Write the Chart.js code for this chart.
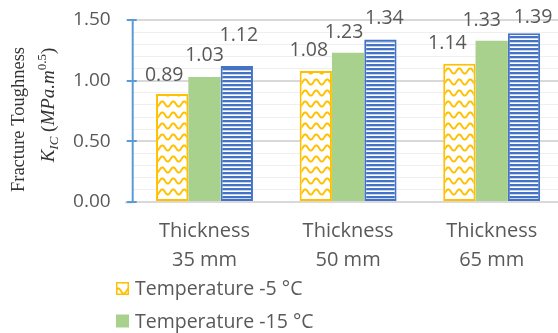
<!DOCTYPE html>
<html>
<head>
<meta charset="utf-8">
<script src="https://cdn.jsdelivr.net/npm/chart.js@4/dist/chart.umd.min.js"></script>
<style>
  html, body { margin: 0; padding: 0; background: #fff; overflow: hidden; width: 558px; height: 333px; }
  #wrap { position: absolute; left: 0; top: 0; width: 570px; height: 333px; }
</style>
</head>
<body>
<div id="wrap"><canvas id="c" width="570" height="333"></canvas></div>
<script>
// ---- data ----
const categories = [['Thickness', '35 mm'], ['Thickness', '50 mm'], ['Thickness', '65 mm']];
const seriesNames = ['Temperature -5 °C', 'Temperature -15 °C', 'Temperature -25 °C'];
const temp5 = [0.89, 1.08, 1.14];
const temp15 = [1.03, 1.23, 1.33];
const temp25 = [1.12, 1.34, 1.39];
const yMin = 0, yMax = 1.5, yMajorStep = 0.5, yMinorStep = 0.1;
const yTitleLine1 = 'Fracture Toughness';

// ---- styles ----
const FONT = '"Open Sans", "DejaVu Sans", sans-serif';
const TEXT = '#595959';
// manual nudges of value labels (dx, dy) per series/category, as in the original
const labelNudge = [
  [[-8, 2], [-7, 0], [-12, 0]],
  [[0, -1], [-4, 0], [-10, 0]],
  [[2, -10], [4, 0], [9, 5]]
];

function wavePattern() {
  const s = 11, cv = document.createElement('canvas');
  cv.width = s; cv.height = s;
  const g = cv.getContext('2d');
  g.fillStyle = '#fff'; g.fillRect(0, 0, s, s);
  g.strokeStyle = '#FFC000'; g.lineWidth = 2;
  g.beginPath();
  for (let x = -1; x <= s + 1; x += 0.5) {
    const y = 5 + 2.6 * Math.sin((x / s) * Math.PI * 2);
    if (x === -1) g.moveTo(x, y); else g.lineTo(x, y);
  }
  g.stroke();
  return g.createPattern(cv, 'repeat');
}
function stripePattern() {
  const cv = document.createElement('canvas');
  cv.width = 4; cv.height = 4;
  const g = cv.getContext('2d');
  g.fillStyle = '#fff'; g.fillRect(0, 0, 4, 4);
  g.fillStyle = '#4472C4'; g.fillRect(0, 0, 4, 2);
  g.fillStyle = '#9fb4e0'; g.fillRect(0, 2, 4, 0.6);
  return g.createPattern(cv, 'repeat');
}
const yellowFill = wavePattern();
const blueFill = stripePattern();

const isMajor = v => Math.abs(v / yMajorStep - Math.round(v / yMajorStep)) < 1e-6;

const valueLabels = {
  id: 'valueLabels',
  afterDatasetsDraw(chart) {
    const ctx = chart.ctx;
    ctx.save();
    ctx.font = '19.5px ' + FONT;
    ctx.fillStyle = TEXT;
    ctx.textAlign = 'center';
    ctx.textBaseline = 'alphabetic';
    chart.data.datasets.forEach((ds, di) => {
      const meta = chart.getDatasetMeta(di);
      meta.data.forEach((el, i) => {
        const n = labelNudge[di][i];
        ctx.fillText(ds.data[i].toFixed(2), el.x + n[0], el.y - 15 + n[1]);
      });
    });
    ctx.restore();
  }
};

const axisDecor = {
  id: 'axisDecor',
  afterDraw(chart) {
    const ctx = chart.ctx;
    const y = chart.scales.y, area = chart.chartArea;
    ctx.save();
    // x axis extension to the left
    ctx.strokeStyle = '#D9D9D9'; ctx.lineWidth = 2;
    ctx.beginPath(); ctx.moveTo(125, area.bottom + 0.5); ctx.lineTo(area.left, area.bottom + 0.5); ctx.stroke();
    // y axis line & cross ticks
    ctx.strokeStyle = '#5B9BD5'; ctx.lineWidth = 2;
    ctx.beginPath(); ctx.moveTo(area.left, area.top); ctx.lineTo(area.left, area.bottom + 1); ctx.stroke();
    for (let v = yMin; v <= yMax + 1e-9; v += yMajorStep) {
      const py = Math.round(y.getPixelForValue(v));
      ctx.beginPath(); ctx.moveTo(area.left - 6, py); ctx.lineTo(area.left + 4, py); ctx.stroke();
    }
    // y axis title
    ctx.fillStyle = '#333';
    ctx.translate(19, 119.5);
    ctx.rotate(-Math.PI / 2);
    ctx.textAlign = 'center'; ctx.textBaseline = 'middle';
    ctx.font = '18.5px "Liberation Serif", "DejaVu Serif", serif';
    ctx.fillText(yTitleLine1, 0, 0);
    ctx.restore();

    // second title line with sub/superscripts
    ctx.save();
    ctx.translate(48, 105);
    ctx.rotate(-Math.PI / 2);
    ctx.fillStyle = '#333';
    ctx.textBaseline = 'alphabetic';
    const big = 'italic 19px "Liberation Serif", "DejaVu Serif", serif';
    const bigUp = '19px "Liberation Serif", "DejaVu Serif", serif';
    const small = 'italic 13px "Liberation Serif", "DejaVu Serif", serif';
    const smallUp = '13px "Liberation Serif", "DejaVu Serif", serif';
    const parts = [
      ['K', big, 0], ['IC', small, 4], [' (', bigUp, 0], ['MPa.m', big, 0], ['0.5', smallUp, -8], [')', bigUp, 0]
    ];
    let total = 0;
    parts.forEach(p => { ctx.font = p[1]; total += ctx.measureText(p[0]).width; });
    let x = -total / 2;
    parts.forEach(p => { ctx.font = p[1]; ctx.fillText(p[0], x, 6 + p[2]); x += ctx.measureText(p[0]).width; });
    ctx.restore();

    // legend (vertical, below axis; last item falls outside the picture)
    ctx.save();
    ctx.font = '19.5px ' + FONT;
    ctx.textBaseline = 'middle';
    ctx.textAlign = 'left';
    chart.data.datasets.forEach((ds, i) => {
      const top = 282 + i * 32.5;
      ctx.fillStyle = ds.backgroundColor;
      ctx.fillRect(116, top, 13, 13);
      if (ds.borderWidth) {
        ctx.strokeStyle = ds.borderColor; ctx.lineWidth = 1.5;
        ctx.strokeRect(116.75, top + 0.75, 11.5, 11.5);
      }
      ctx.fillStyle = TEXT;
      ctx.fillText(ds.label, 135, top + 7.5);
    });
    ctx.restore();
  }
};

function noPad(scale) {
  scale.paddingTop = 0; scale.paddingBottom = 0; scale.paddingLeft = 0; scale.paddingRight = 0;
}

new Chart(document.getElementById('c'), {
  type: 'bar',
  data: {
    labels: categories,
    datasets: [
      { label: seriesNames[0], data: temp5, backgroundColor: yellowFill, borderColor: '#FFC000', borderWidth: 2, borderSkipped: false },
      { label: seriesNames[1], data: temp15, backgroundColor: '#A9D18E', borderWidth: 0 },
      { label: seriesNames[2], data: temp25, backgroundColor: blueFill, borderColor: '#4472C4', borderWidth: 2, borderSkipped: false }
    ]
  },
  plugins: [valueLabels, axisDecor],
  options: {
    responsive: false,
    animation: false,
    devicePixelRatio: 1,
    layout: { padding: { top: 20, left: 0, right: 6.5, bottom: 0 } },
    plugins: { legend: { display: false }, tooltip: { enabled: false } },
    datasets: { bar: { categoryPercentage: 0.675, barPercentage: 1.0 } },
    scales: {
      x: {
        grid: { display: false, drawTicks: false },
        border: { display: true, color: '#D9D9D9', width: 2 },
        ticks: { color: TEXT, font: { family: FONT, size: 20, lineHeight: 1.45 }, padding: 15, maxRotation: 0 },
        afterFit(scale) { scale.height = 131; noPad(scale); }
      },
      y: {
        min: yMin, max: yMax,
        grid: {
          drawTicks: false,
          color: c => isMajor(c.tick.value) ? '#D9D9D9' : '#EFEFEF',
          lineWidth: c => isMajor(c.tick.value) ? 2 : 1
        },
        border: { display: false },
        ticks: {
          stepSize: yMinorStep, autoSkip: false, padding: 22, color: TEXT,
          font: { family: FONT, size: 19 },
          callback: v => isMajor(v) ? v.toFixed(2) : ''
        },
        afterFit(scale) { scale.width = 132.7; noPad(scale); }
      }
    }
  }
});
</script>
</body>
</html>
